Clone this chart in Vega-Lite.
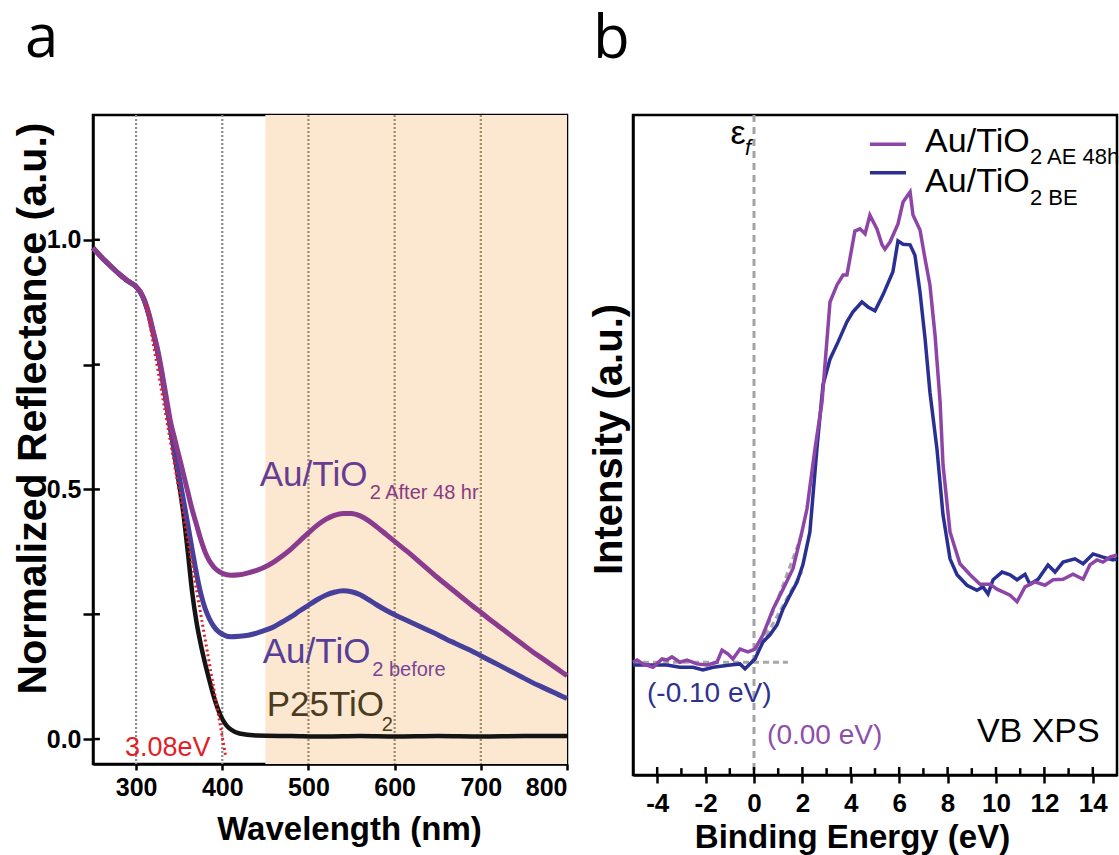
{
  "$schema": "https://vega.github.io/schema/vega-lite/v6.json",
  "padding": {"left": 10, "top": 7, "right": 0, "bottom": 0},
  "background": "white",
  "spacing": 66,
  "bounds": "flush",
  "config": {
    "view": {"stroke": "#000", "strokeWidth": 2.5},
    "axis": {"domainColor": "#000", "domainWidth": 2.5, "tickColor": "#000", "tickWidth": 2.5, "grid": false,
      "labelFont": "Liberation Sans", "labelFontWeight": "bold", "labelColor": "#000", "labelOverlap": false,
      "titleFont": "Liberation Sans", "titleFontWeight": "bold", "titleColor": "#000"},
    "title": {"font": "Open Sans", "fontSize": 60, "fontWeight": "normal", "anchor": "start", "frame": "group", "baseline": "alphabetic", "color": "#000"}
  },
  "datasets": {
    "a_black": [
      {"wl": 250, "r": 0.984}, {"wl": 260, "r": 0.965}, {"wl": 270, "r": 0.948}, {"wl": 280, "r": 0.932}, {"wl": 290, "r": 0.918},
      {"wl": 300, "r": 0.906}, {"wl": 305, "r": 0.895}, {"wl": 310, "r": 0.876}, {"wl": 315, "r": 0.848}, {"wl": 320, "r": 0.812},
      {"wl": 325, "r": 0.775}, {"wl": 330, "r": 0.728}, {"wl": 335, "r": 0.675}, {"wl": 340, "r": 0.62}, {"wl": 345, "r": 0.565},
      {"wl": 350, "r": 0.51}, {"wl": 355, "r": 0.45}, {"wl": 360, "r": 0.375}, {"wl": 365, "r": 0.295}, {"wl": 370, "r": 0.235},
      {"wl": 375, "r": 0.19}, {"wl": 380, "r": 0.152}, {"wl": 385, "r": 0.118}, {"wl": 390, "r": 0.086}, {"wl": 395, "r": 0.06},
      {"wl": 400, "r": 0.04}, {"wl": 405, "r": 0.027}, {"wl": 410, "r": 0.019}, {"wl": 420, "r": 0.011}, {"wl": 440, "r": 0.007},
      {"wl": 480, "r": 0.006}, {"wl": 520, "r": 0.005}, {"wl": 560, "r": 0.006}, {"wl": 600, "r": 0.005}, {"wl": 650, "r": 0.006},
      {"wl": 700, "r": 0.005}, {"wl": 750, "r": 0.006}, {"wl": 800, "r": 0.006}
    ],
    "a_blue": [
      {"wl": 250, "r": 0.984}, {"wl": 260, "r": 0.965}, {"wl": 270, "r": 0.948}, {"wl": 280, "r": 0.932}, {"wl": 290, "r": 0.918},
      {"wl": 300, "r": 0.906}, {"wl": 305, "r": 0.895}, {"wl": 310, "r": 0.876}, {"wl": 315, "r": 0.848}, {"wl": 320, "r": 0.812},
      {"wl": 325, "r": 0.775}, {"wl": 330, "r": 0.728}, {"wl": 335, "r": 0.675}, {"wl": 340, "r": 0.622}, {"wl": 345, "r": 0.57},
      {"wl": 350, "r": 0.525}, {"wl": 355, "r": 0.478}, {"wl": 360, "r": 0.43}, {"wl": 365, "r": 0.38}, {"wl": 370, "r": 0.332},
      {"wl": 375, "r": 0.292}, {"wl": 380, "r": 0.262}, {"wl": 385, "r": 0.241}, {"wl": 390, "r": 0.226}, {"wl": 395, "r": 0.216},
      {"wl": 400, "r": 0.21}, {"wl": 410, "r": 0.205}, {"wl": 420, "r": 0.206}, {"wl": 430, "r": 0.208}, {"wl": 440, "r": 0.212},
      {"wl": 450, "r": 0.218}, {"wl": 460, "r": 0.225}, {"wl": 470, "r": 0.235}, {"wl": 480, "r": 0.245}, {"wl": 490, "r": 0.257},
      {"wl": 500, "r": 0.268}, {"wl": 510, "r": 0.279}, {"wl": 520, "r": 0.288}, {"wl": 530, "r": 0.294}, {"wl": 540, "r": 0.297},
      {"wl": 550, "r": 0.295}, {"wl": 560, "r": 0.289}, {"wl": 570, "r": 0.279}, {"wl": 580, "r": 0.268}, {"wl": 590, "r": 0.258},
      {"wl": 600, "r": 0.249}, {"wl": 610, "r": 0.241}, {"wl": 620, "r": 0.233}, {"wl": 630, "r": 0.225}, {"wl": 640, "r": 0.217},
      {"wl": 650, "r": 0.209}, {"wl": 660, "r": 0.2}, {"wl": 670, "r": 0.192}, {"wl": 680, "r": 0.184}, {"wl": 690, "r": 0.176},
      {"wl": 700, "r": 0.167}, {"wl": 710, "r": 0.158}, {"wl": 720, "r": 0.149}, {"wl": 730, "r": 0.14}, {"wl": 740, "r": 0.131},
      {"wl": 750, "r": 0.122}, {"wl": 760, "r": 0.113}, {"wl": 770, "r": 0.105}, {"wl": 780, "r": 0.097}, {"wl": 790, "r": 0.089},
      {"wl": 800, "r": 0.081}
    ],
    "a_purple": [
      {"wl": 250, "r": 0.984}, {"wl": 260, "r": 0.965}, {"wl": 270, "r": 0.948}, {"wl": 280, "r": 0.932}, {"wl": 290, "r": 0.918},
      {"wl": 300, "r": 0.906}, {"wl": 305, "r": 0.896}, {"wl": 310, "r": 0.878}, {"wl": 315, "r": 0.851}, {"wl": 320, "r": 0.816},
      {"wl": 325, "r": 0.78}, {"wl": 330, "r": 0.735}, {"wl": 335, "r": 0.685}, {"wl": 340, "r": 0.635}, {"wl": 345, "r": 0.6},
      {"wl": 350, "r": 0.565}, {"wl": 355, "r": 0.53}, {"wl": 360, "r": 0.495}, {"wl": 365, "r": 0.46}, {"wl": 370, "r": 0.43},
      {"wl": 375, "r": 0.4}, {"wl": 380, "r": 0.375}, {"wl": 385, "r": 0.357}, {"wl": 390, "r": 0.345}, {"wl": 395, "r": 0.337},
      {"wl": 400, "r": 0.332}, {"wl": 410, "r": 0.328}, {"wl": 420, "r": 0.329}, {"wl": 430, "r": 0.333}, {"wl": 440, "r": 0.338},
      {"wl": 450, "r": 0.345}, {"wl": 460, "r": 0.355}, {"wl": 470, "r": 0.367}, {"wl": 480, "r": 0.381}, {"wl": 490, "r": 0.397},
      {"wl": 500, "r": 0.413}, {"wl": 510, "r": 0.428}, {"wl": 520, "r": 0.44}, {"wl": 530, "r": 0.448}, {"wl": 540, "r": 0.452},
      {"wl": 550, "r": 0.452}, {"wl": 560, "r": 0.447}, {"wl": 570, "r": 0.437}, {"wl": 580, "r": 0.424}, {"wl": 590, "r": 0.41},
      {"wl": 600, "r": 0.396}, {"wl": 610, "r": 0.382}, {"wl": 620, "r": 0.368}, {"wl": 630, "r": 0.353}, {"wl": 640, "r": 0.338},
      {"wl": 650, "r": 0.323}, {"wl": 660, "r": 0.309}, {"wl": 670, "r": 0.295}, {"wl": 680, "r": 0.281}, {"wl": 690, "r": 0.267},
      {"wl": 700, "r": 0.254}, {"wl": 710, "r": 0.24}, {"wl": 720, "r": 0.227}, {"wl": 730, "r": 0.214}, {"wl": 740, "r": 0.201},
      {"wl": 750, "r": 0.188}, {"wl": 760, "r": 0.175}, {"wl": 770, "r": 0.163}, {"wl": 780, "r": 0.151}, {"wl": 790, "r": 0.139},
      {"wl": 800, "r": 0.127}
    ],
    "b_purple": [
      {"e": -5.0, "i": 0.205}, {"e": -4.83, "i": 0.209}, {"e": -4.59, "i": 0.202}, {"e": -4.17, "i": 0.196}, {"e": -3.8, "i": 0.211},
      {"e": -3.6, "i": 0.209}, {"e": -3.39, "i": 0.215}, {"e": -3.06, "i": 0.205}, {"e": -2.77, "i": 0.209}, {"e": -2.36, "i": 0.202},
      {"e": -1.94, "i": 0.2}, {"e": -1.53, "i": 0.205}, {"e": -1.32, "i": 0.227}, {"e": -1.07, "i": 0.22}, {"e": -0.87, "i": 0.211},
      {"e": -0.58, "i": 0.229}, {"e": -0.25, "i": 0.224}, {"e": 0.04, "i": 0.229}, {"e": 0.37, "i": 0.255}, {"e": 0.79, "i": 0.302},
      {"e": 1.2, "i": 0.338}, {"e": 1.61, "i": 0.375}, {"e": 1.98, "i": 0.442}, {"e": 2.19, "i": 0.484}, {"e": 2.52, "i": 0.593},
      {"e": 2.81, "i": 0.678}, {"e": 3.14, "i": 0.86}, {"e": 3.43, "i": 0.891}, {"e": 3.68, "i": 0.909}, {"e": 3.84, "i": 0.909},
      {"e": 4.17, "i": 0.989}, {"e": 4.38, "i": 0.993}, {"e": 4.59, "i": 0.984}, {"e": 4.79, "i": 1.018}, {"e": 5.08, "i": 0.993},
      {"e": 5.29, "i": 0.964}, {"e": 5.41, "i": 0.956}, {"e": 5.62, "i": 0.969}, {"e": 5.95, "i": 1.002}, {"e": 6.16, "i": 1.042},
      {"e": 6.45, "i": 1.06}, {"e": 6.57, "i": 1.018}, {"e": 6.86, "i": 0.991}, {"e": 7.07, "i": 0.938}, {"e": 7.27, "i": 0.891},
      {"e": 7.48, "i": 0.8}, {"e": 7.69, "i": 0.678}, {"e": 7.81, "i": 0.564}, {"e": 8.1, "i": 0.442}, {"e": 8.51, "i": 0.384},
      {"e": 8.93, "i": 0.364}, {"e": 9.34, "i": 0.347}, {"e": 9.75, "i": 0.347}, {"e": 10.04, "i": 0.338}, {"e": 10.29, "i": 0.333},
      {"e": 10.58, "i": 0.327}, {"e": 10.87, "i": 0.315}, {"e": 11.2, "i": 0.342}, {"e": 11.61, "i": 0.351}, {"e": 12.02, "i": 0.345},
      {"e": 12.36, "i": 0.355}, {"e": 12.77, "i": 0.356}, {"e": 13.18, "i": 0.365}, {"e": 13.6, "i": 0.356}, {"e": 13.88, "i": 0.382},
      {"e": 14.17, "i": 0.391}, {"e": 14.42, "i": 0.387}, {"e": 14.71, "i": 0.396}, {"e": 15.0, "i": 0.4}
    ],
    "b_blue": [
      {"e": -5.0, "i": 0.2}, {"e": -4.3, "i": 0.2}, {"e": -3.6, "i": 0.2}, {"e": -3.06, "i": 0.196}, {"e": -2.52, "i": 0.196},
      {"e": -2.11, "i": 0.191}, {"e": -1.69, "i": 0.196}, {"e": -0.99, "i": 0.2}, {"e": -0.58, "i": 0.202}, {"e": -0.37, "i": 0.193},
      {"e": 0.04, "i": 0.211}, {"e": 0.37, "i": 0.242}, {"e": 0.66, "i": 0.255}, {"e": 0.95, "i": 0.273}, {"e": 1.2, "i": 0.302},
      {"e": 1.49, "i": 0.327}, {"e": 1.78, "i": 0.351}, {"e": 2.02, "i": 0.382}, {"e": 2.31, "i": 0.442}, {"e": 2.6, "i": 0.593},
      {"e": 2.85, "i": 0.709}, {"e": 3.14, "i": 0.756}, {"e": 3.47, "i": 0.787}, {"e": 3.84, "i": 0.824}, {"e": 4.09, "i": 0.842},
      {"e": 4.46, "i": 0.86}, {"e": 4.71, "i": 0.851}, {"e": 5.0, "i": 0.844}, {"e": 5.33, "i": 0.873}, {"e": 5.74, "i": 0.915},
      {"e": 5.95, "i": 0.971}, {"e": 6.16, "i": 0.965}, {"e": 6.45, "i": 0.964}, {"e": 6.65, "i": 0.945}, {"e": 6.86, "i": 0.878},
      {"e": 7.07, "i": 0.793}, {"e": 7.27, "i": 0.696}, {"e": 7.56, "i": 0.593}, {"e": 7.81, "i": 0.473}, {"e": 8.1, "i": 0.393},
      {"e": 8.39, "i": 0.364}, {"e": 8.8, "i": 0.345}, {"e": 9.21, "i": 0.336}, {"e": 9.46, "i": 0.342}, {"e": 9.67, "i": 0.329},
      {"e": 9.88, "i": 0.355}, {"e": 10.25, "i": 0.369}, {"e": 10.58, "i": 0.364}, {"e": 10.87, "i": 0.355}, {"e": 11.2, "i": 0.365},
      {"e": 11.4, "i": 0.347}, {"e": 11.74, "i": 0.356}, {"e": 12.15, "i": 0.382}, {"e": 12.44, "i": 0.369}, {"e": 12.77, "i": 0.387},
      {"e": 13.26, "i": 0.393}, {"e": 13.6, "i": 0.384}, {"e": 14.01, "i": 0.402}, {"e": 14.42, "i": 0.396}, {"e": 14.83, "i": 0.391},
      {"e": 15.0, "i": 0.393}
    ]
  },
  "hconcat": [
    {
      "width": 474,
      "height": 649,
      "title": {"text": "a", "dx": -68, "offset": 44},
      "layer": [
        {
          "data": {"values": [{"wl": 450, "wl2": 800}]},
          "mark": {"type": "rect", "color": "#fce8d0"},
          "encoding": {
            "x": {"field": "wl", "type": "quantitative", "scale": {"domain": [250, 800], "nice": false, "zero": false},
              "axis": {"values": [300, 400, 500, 600, 700, 800], "labelFontSize": 25, "tickSize": 6, "labelPadding": 5,
                "title": "Wavelength (nm)", "titleFontSize": 33, "titleX": 256, "titleY": 75, "titleBaseline": "alphabetic"}},
            "x2": {"field": "wl2"}
          }
        },
        {
          "data": {"values": [{"wl": 300}, {"wl": 400}]},
          "mark": {"type": "rule", "color": "#8c8c8c", "strokeWidth": 2.2, "strokeDash": [2, 2]},
          "encoding": {"x": {"field": "wl", "type": "quantitative"}}
        },
        {
          "data": {"values": [{"wl": 500}, {"wl": 600}, {"wl": 700}]},
          "mark": {"type": "rule", "color": "#a08868", "strokeWidth": 2.2, "strokeDash": [2, 2]},
          "encoding": {"x": {"field": "wl", "type": "quantitative"}}
        },
        {
          "data": {"values": [{"wl": 250, "wl2": 258, "r": 0}, {"wl": 250, "wl2": 258, "r": 0.25}, {"wl": 250, "wl2": 258, "r": 0.5}, {"wl": 250, "wl2": 258, "r": 0.75}, {"wl": 250, "wl2": 258, "r": 1.0}]},
          "mark": {"type": "rule", "color": "#000", "strokeWidth": 2.5},
          "encoding": {"x": {"field": "wl", "type": "quantitative"}, "x2": {"field": "wl2"}, "y": {"field": "r", "type": "quantitative"}}
        },
        {
          "data": {"name": "a_black"},
          "mark": {"type": "line", "color": "#141414", "strokeWidth": 4.5, "interpolate": "monotone"},
          "encoding": {
            "x": {"field": "wl", "type": "quantitative"},
            "y": {"field": "r", "type": "quantitative", "scale": {"domain": [-0.05, 1.25], "nice": false, "zero": false},
              "axis": {"values": [0, 0.25, 0.5, 0.75, 1.0], "labelExpr": "datum.value == 0 || datum.value == 0.5 || datum.value == 1 ? format(datum.value, '.1f') : ''",
                "labelFontSize": 25, "tickSize": 10, "labelPadding": 2,
                "title": "Normalized Reflectance (a.u.)", "titleFontSize": 41, "titleX": -48, "titleY": 293, "titleBaseline": "alphabetic", "titleAngle": 270}}
          }
        },
        {
          "data": {"name": "a_blue"},
          "mark": {"type": "line", "color": "#463f9c", "strokeWidth": 5, "interpolate": "monotone"},
          "encoding": {"x": {"field": "wl", "type": "quantitative"}, "y": {"field": "r", "type": "quantitative"}}
        },
        {
          "data": {"name": "a_purple"},
          "mark": {"type": "line", "color": "#8a3b8e", "strokeWidth": 5, "interpolate": "monotone"},
          "encoding": {"x": {"field": "wl", "type": "quantitative"}, "y": {"field": "r", "type": "quantitative"}}
        },
        {
          "data": {"values": [{"wl": 312, "r": 0.87, "wl2": 404, "r2": -0.035}]},
          "mark": {"type": "rule", "color": "#e41e26", "strokeWidth": 3, "strokeDash": [2, 3]},
          "encoding": {"x": {"field": "wl", "type": "quantitative"}, "y": {"field": "r", "type": "quantitative"}, "x2": {"field": "wl2"}, "y2": {"field": "r2"}}
        },
        {
          "data": {"values": [{"wl": 443.5, "r": 0.507, "label": "Au/TiO"}]},
          "mark": {"type": "text", "font": "Liberation Sans", "fontSize": 35, "align": "left", "baseline": "alphabetic", "color": "#673c94"},
          "encoding": {"x": {"field": "wl", "type": "quantitative"}, "y": {"field": "r", "type": "quantitative"}, "text": {"field": "label"}}
        },
        {
          "data": {"values": [{"wl": 571, "r": 0.481, "label": "2 After 48 hr"}]},
          "mark": {"type": "text", "font": "Liberation Sans", "fontSize": 20, "align": "left", "baseline": "alphabetic", "color": "#8a3a82"},
          "encoding": {"x": {"field": "wl", "type": "quantitative"}, "y": {"field": "r", "type": "quantitative"}, "text": {"field": "label"}}
        },
        {
          "data": {"values": [{"wl": 447, "r": 0.152, "label": "Au/TiO"}]},
          "mark": {"type": "text", "font": "Liberation Sans", "fontSize": 35, "align": "left", "baseline": "alphabetic", "color": "#563f99"},
          "encoding": {"x": {"field": "wl", "type": "quantitative"}, "y": {"field": "r", "type": "quantitative"}, "text": {"field": "label"}}
        },
        {
          "data": {"values": [{"wl": 574, "r": 0.126, "label": "2 before"}]},
          "mark": {"type": "text", "font": "Liberation Sans", "fontSize": 20, "align": "left", "baseline": "alphabetic", "color": "#7a4596"},
          "encoding": {"x": {"field": "wl", "type": "quantitative"}, "y": {"field": "r", "type": "quantitative"}, "text": {"field": "label"}}
        },
        {
          "data": {"values": [{"wl": 451.6, "r": 0.046, "label": "P25TiO"}]},
          "mark": {"type": "text", "font": "Liberation Sans", "fontSize": 35, "align": "left", "baseline": "alphabetic", "color": "#4b3b1f"},
          "encoding": {"x": {"field": "wl", "type": "quantitative"}, "y": {"field": "r", "type": "quantitative"}, "text": {"field": "label"}}
        },
        {
          "data": {"values": [{"wl": 585, "r": 0.016, "label": "2"}]},
          "mark": {"type": "text", "font": "Liberation Sans", "fontSize": 20, "align": "left", "baseline": "alphabetic", "color": "#4b3b1f"},
          "encoding": {"x": {"field": "wl", "type": "quantitative"}, "y": {"field": "r", "type": "quantitative"}, "text": {"field": "label"}}
        },
        {
          "data": {"values": [{"wl": 287, "r": -0.034, "label": "3.08eV"}]},
          "mark": {"type": "text", "font": "Liberation Sans", "fontSize": 27, "align": "left", "baseline": "alphabetic", "color": "#e41e26"},
          "encoding": {"x": {"field": "wl", "type": "quantitative"}, "y": {"field": "r", "type": "quantitative"}, "text": {"field": "label"}}
        }
      ]
    },
    {
      "width": 484,
      "height": 660,
      "title": {"text": "b", "dx": -40, "offset": 43},
      "layer": [
        {
          "data": {"values": [{"e": 0}]},
          "mark": {"type": "rule", "color": "#a3a3a3", "strokeWidth": 3, "strokeDash": [7, 5]},
          "encoding": {
            "x": {"field": "e", "type": "quantitative", "scale": {"domain": [-5, 15], "nice": false, "zero": false},
              "axis": {"values": [-4, -2, 0, 2, 4, 6, 8, 10, 12, 14], "labelExpr": "'' + datum.value", "labelFontSize": 26,
                "tickSize": 8, "labelPadding": 7,
                "title": "Binding Energy (eV)", "titleFontSize": 33, "titleX": 219, "titleY": 72, "titleBaseline": "alphabetic"}}
          }
        },
        {
          "data": {"values": [
            {"e": -4, "i": 0, "i2": 0.0145}, {"e": -3, "i": 0, "i2": 0.0125}, {"e": -2, "i": 0, "i2": 0.0145}, {"e": -1, "i": 0, "i2": 0.0125},
            {"e": 0, "i": 0, "i2": 0.0145}, {"e": 1, "i": 0, "i2": 0.0125}, {"e": 2, "i": 0, "i2": 0.0145}, {"e": 3, "i": 0, "i2": 0.0125},
            {"e": 4, "i": 0, "i2": 0.0145}, {"e": 5, "i": 0, "i2": 0.0125}, {"e": 6, "i": 0, "i2": 0.0145}, {"e": 7, "i": 0, "i2": 0.0125},
            {"e": 8, "i": 0, "i2": 0.0145}, {"e": 9, "i": 0, "i2": 0.0125}, {"e": 10, "i": 0, "i2": 0.0145}, {"e": 11, "i": 0, "i2": 0.0125},
            {"e": 12, "i": 0, "i2": 0.0145}, {"e": 13, "i": 0, "i2": 0.0125}, {"e": 14, "i": 0, "i2": 0.0145}
          ]},
          "mark": {"type": "rule", "color": "#000", "strokeWidth": 2.5},
          "encoding": {"x": {"field": "e", "type": "quantitative"}, "y": {"field": "i", "type": "quantitative"}, "y2": {"field": "i2"}}
        },
        {
          "data": {"values": [{"e": -5, "i": 0.205, "e2": 1.4, "i2": 0.205}, {"e": 0.0, "i": 0.205, "e2": 2.02, "i2": 0.442}, {"e": -0.1, "i": 0.205, "e2": 1.98, "i2": 0.37}]},
          "mark": {"type": "rule", "color": "#a8a8a8", "strokeWidth": 3, "strokeDash": [6, 4]},
          "encoding": {
            "x": {"field": "e", "type": "quantitative"},
            "y": {"field": "i", "type": "quantitative", "scale": {"domain": [0, 1.2], "nice": false, "zero": false},
              "axis": {"labels": false, "ticks": false, "title": "Intensity (a.u.)", "titleFontSize": 40, "titleX": -12, "titleY": 324, "titleBaseline": "alphabetic", "titleAngle": 270}},
            "x2": {"field": "e2"}, "y2": {"field": "i2"}
          }
        },
        {
          "data": {"name": "b_blue"},
          "mark": {"type": "line", "color": "#2a2f92", "strokeWidth": 3.5},
          "encoding": {"x": {"field": "e", "type": "quantitative"}, "y": {"field": "i", "type": "quantitative"}}
        },
        {
          "data": {"name": "b_purple"},
          "mark": {"type": "line", "color": "#8e45a8", "strokeWidth": 3.5},
          "encoding": {"x": {"field": "e", "type": "quantitative"}, "y": {"field": "i", "type": "quantitative"}}
        },
        {
          "data": {"values": [{"e": 4.79, "e2": 6.28, "i": 1.147}]},
          "mark": {"type": "rule", "color": "#8e45a8", "strokeWidth": 3.5},
          "encoding": {"x": {"field": "e", "type": "quantitative"}, "x2": {"field": "e2"}, "y": {"field": "i", "type": "quantitative"}}
        },
        {
          "data": {"values": [{"e": 4.79, "e2": 6.28, "i": 1.095}]},
          "mark": {"type": "rule", "color": "#2a2f92", "strokeWidth": 3.5},
          "encoding": {"x": {"field": "e", "type": "quantitative"}, "x2": {"field": "e2"}, "y": {"field": "i", "type": "quantitative"}}
        },
        {
          "data": {"values": [{"e": 7.07, "i": 1.133, "label": "Au/TiO"}, {"e": 7.07, "i": 1.06, "label": "Au/TiO"}, {"e": 9.21, "i": 0.06, "label": "VB XPS"}]},
          "mark": {"type": "text", "font": "Liberation Sans", "fontSize": 34, "align": "left", "baseline": "alphabetic", "color": "#000"},
          "encoding": {"x": {"field": "e", "type": "quantitative"}, "y": {"field": "i", "type": "quantitative"}, "text": {"field": "label"}}
        },
        {
          "data": {"values": [{"e": 11.4, "i": 1.111, "label": "2 AE 48hr"}, {"e": 11.4, "i": 1.036, "label": "2 BE"}]},
          "mark": {"type": "text", "font": "Liberation Sans", "fontSize": 22, "align": "left", "baseline": "alphabetic", "color": "#000"},
          "encoding": {"x": {"field": "e", "type": "quantitative"}, "y": {"field": "i", "type": "quantitative"}, "text": {"field": "label"}}
        },
        {
          "data": {"values": [{"e": -0.66, "i": 1.147, "label": "ε"}]},
          "mark": {"type": "text", "font": "Liberation Sans", "fontSize": 34, "align": "center", "baseline": "alphabetic", "color": "#000"},
          "encoding": {"x": {"field": "e", "type": "quantitative"}, "y": {"field": "i", "type": "quantitative"}, "text": {"field": "label"}}
        },
        {
          "data": {"values": [{"e": -0.25, "i": 1.127, "label": "f"}]},
          "mark": {"type": "text", "font": "Liberation Sans", "fontSize": 22, "fontStyle": "italic", "align": "center", "baseline": "alphabetic", "color": "#000"},
          "encoding": {"x": {"field": "e", "type": "quantitative"}, "y": {"field": "i", "type": "quantitative"}, "text": {"field": "label"}}
        },
        {
          "data": {"values": [{"e": -4.42, "i": 0.133, "label": "(-0.10 eV)"}]},
          "mark": {"type": "text", "font": "Liberation Sans", "fontSize": 28, "align": "left", "baseline": "alphabetic", "color": "#2e3192"},
          "encoding": {"x": {"field": "e", "type": "quantitative"}, "y": {"field": "i", "type": "quantitative"}, "text": {"field": "label"}}
        },
        {
          "data": {"values": [{"e": 0.54, "i": 0.056, "label": "(0.00 eV)"}]},
          "mark": {"type": "text", "font": "Liberation Sans", "fontSize": 28, "align": "left", "baseline": "alphabetic", "color": "#8e4fa8"},
          "encoding": {"x": {"field": "e", "type": "quantitative"}, "y": {"field": "i", "type": "quantitative"}, "text": {"field": "label"}}
        }
      ]
    }
  ]
}
